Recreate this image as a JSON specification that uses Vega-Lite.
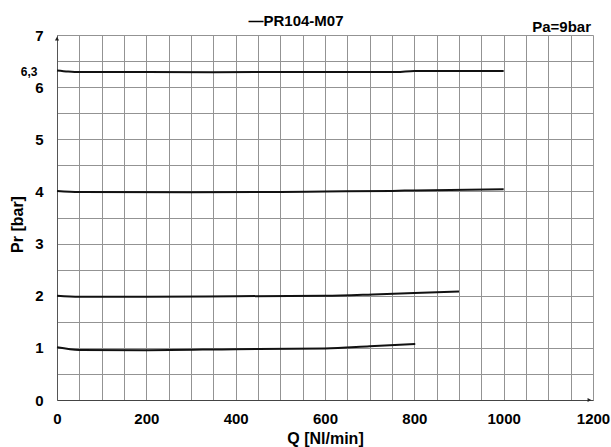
{
  "$schema": "https://vega.github.io/schema/vega-lite/v6.json",
  "autosize": {"type": "none"},
  "width": 536,
  "height": 365,
  "padding": {"left": 57, "top": 35, "right": 18, "bottom": 47},
  "background": "white",
  "config": {
    "view": {"stroke": null},
    "font": "Liberation Sans"
  },
  "title": {
    "text": "—PR104-M07",
    "font": "Liberation Sans",
    "fontSize": 15,
    "fontWeight": "bold",
    "color": "black",
    "anchor": "middle",
    "dx": -29,
    "offset": -9
  },
  "datasets": {
    "curves": [
      {"series": "6.3", "q": 0, "pr": 6.32},
      {"series": "6.3", "q": 25, "pr": 6.3},
      {"series": "6.3", "q": 50, "pr": 6.29},
      {"series": "6.3", "q": 200, "pr": 6.29},
      {"series": "6.3", "q": 350, "pr": 6.285},
      {"series": "6.3", "q": 500, "pr": 6.29},
      {"series": "6.3", "q": 650, "pr": 6.29},
      {"series": "6.3", "q": 760, "pr": 6.29},
      {"series": "6.3", "q": 800, "pr": 6.31},
      {"series": "6.3", "q": 900, "pr": 6.31},
      {"series": "6.3", "q": 1000, "pr": 6.31},
      {"series": "4", "q": 0, "pr": 4.01},
      {"series": "4", "q": 50, "pr": 3.99},
      {"series": "4", "q": 300, "pr": 3.985},
      {"series": "4", "q": 500, "pr": 3.99},
      {"series": "4", "q": 600, "pr": 4.0},
      {"series": "4", "q": 750, "pr": 4.01},
      {"series": "4", "q": 800, "pr": 4.02},
      {"series": "4", "q": 1000, "pr": 4.04},
      {"series": "2", "q": 0, "pr": 2.0},
      {"series": "2", "q": 50, "pr": 1.98},
      {"series": "2", "q": 200, "pr": 1.98},
      {"series": "2", "q": 400, "pr": 1.99},
      {"series": "2", "q": 600, "pr": 2.0},
      {"series": "2", "q": 723, "pr": 2.03},
      {"series": "2", "q": 800, "pr": 2.05},
      {"series": "2", "q": 900, "pr": 2.08},
      {"series": "1", "q": 0, "pr": 1.01},
      {"series": "1", "q": 50, "pr": 0.96},
      {"series": "1", "q": 200, "pr": 0.955},
      {"series": "1", "q": 400, "pr": 0.975},
      {"series": "1", "q": 600, "pr": 0.99},
      {"series": "1", "q": 700, "pr": 1.03},
      {"series": "1", "q": 802, "pr": 1.075}
    ],
    "notes": [{"q": 1200, "pr": 7, "text": "Pa=9bar"}],
    "yarrow": [{"q": 0, "pr": 6.93}],
    "xarrow": [{"q": 1192, "pr": 0}]
  },
  "encoding": {
    "x": {
      "field": "q",
      "type": "quantitative",
      "scale": {"domain": [0, 1200], "nice": false, "zero": false},
      "axis": {
        "title": "Q [Nl/min]",
        "values": [0, 50, 100, 150, 200, 250, 300, 350, 400, 450, 500, 550, 600, 650, 700, 750, 800, 850, 900, 950, 1000, 1050, 1100, 1150, 1200],
        "format": "d",
        "labelExpr": "datum.value % 200 == 0 ? datum.label : ''",
        "labelFlush": false,
        "labelOverlap": false,
        "labelBound": false,
        "labelFont": "Liberation Sans",
        "labelFontSize": 15,
        "labelFontWeight": "bold",
        "labelColor": "black",
        "labelPadding": 11,
        "ticks": false,
        "grid": true,
        "gridColor": "#939393",
        "gridWidth": 1,
        "domainColor": "#444444",
        "domainWidth": 1,
        "titleFont": "Liberation Sans",
        "titleFontSize": 16,
        "titleFontWeight": "bold",
        "titleColor": "black",
        "titlePadding": 4
      }
    },
    "y": {
      "field": "pr",
      "type": "quantitative",
      "scale": {"domain": [0, 7], "nice": false, "zero": false},
      "axis": {
        "title": "Pr [bar]",
        "values": [0, 0.5, 1, 1.5, 2, 2.5, 3, 3.5, 4, 4.5, 5, 5.5, 6, 6.5, 7, 6.3],
        "labelExpr": "datum.value == 6.3 ? '6,3' : (datum.value % 1 == 0 ? format(datum.value, 'd') : '')",
        "labelOverlap": false,
        "labelBound": false,
        "labelFlush": false,
        "labelFont": "Liberation Sans",
        "labelFontSize": {"condition": {"test": "datum.value == 6.3", "value": 12}, "value": 15},
        "labelPadding": {"condition": {"test": "datum.value == 6.3", "value": 20}, "value": 14},
        "labelFontWeight": "bold",
        "labelColor": "black",
        "ticks": false,
        "grid": true,
        "gridColor": "#939393",
        "gridWidth": 1,
        "gridOpacity": {"condition": {"test": "datum.value == 6.3", "value": 0}, "value": 1},
        "domainColor": "#555555",
        "domainWidth": 1,
        "titleFont": "Liberation Sans",
        "titleFontSize": 16,
        "titleFontWeight": "bold",
        "titleColor": "black",
        "titleAngle": -90,
        "titleAlign": "center",
        "titleBaseline": "middle",
        "titleX": -40,
        "titleY": 189
      }
    }
  },
  "layer": [
    {
      "data": {"name": "curves"},
      "mark": {"type": "line", "color": "#111111", "strokeWidth": 2, "interpolate": "monotone"},
      "encoding": {"detail": {"field": "series", "type": "nominal"}}
    },
    {
      "data": {"name": "notes"},
      "mark": {"type": "text", "align": "right", "baseline": "alphabetic", "dy": -3, "dx": -2, "font": "Liberation Sans", "fontSize": 15, "fontWeight": "bold", "color": "black"},
      "encoding": {"text": {"field": "text", "type": "nominal"}}
    },
    {
      "data": {"name": "yarrow"},
      "mark": {"type": "point", "shape": "triangle-up", "filled": true, "size": 18, "color": "#222222", "opacity": 1},
      "encoding": {}
    },
    {
      "data": {"name": "xarrow"},
      "mark": {"type": "point", "shape": "triangle-right", "filled": true, "size": 18, "color": "#222222", "opacity": 1},
      "encoding": {}
    }
  ]
}
